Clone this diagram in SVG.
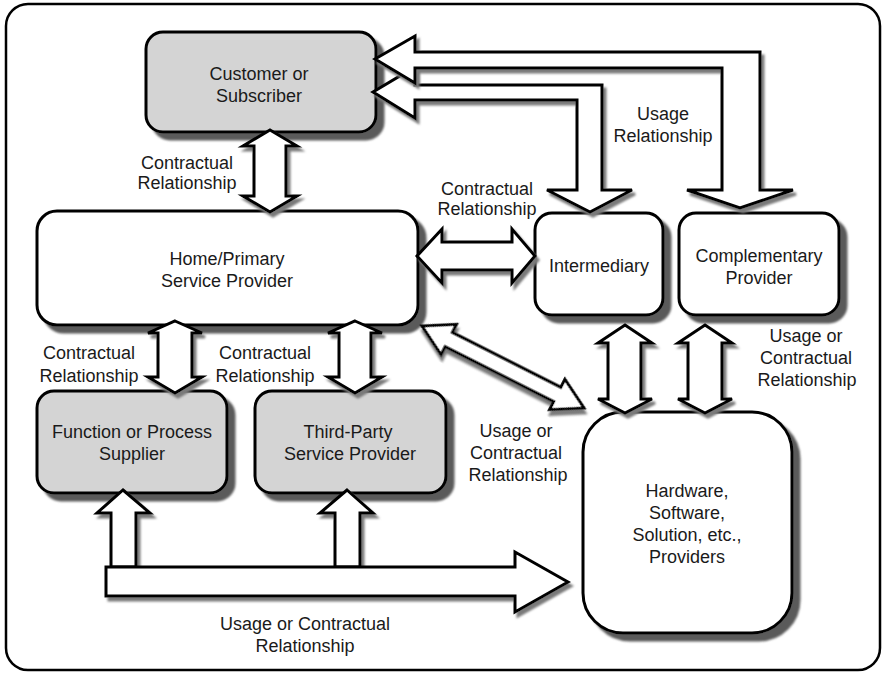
<svg xmlns="http://www.w3.org/2000/svg" width="884" height="674" viewBox="0 0 884 674">
  <defs>
    <filter id="boxShadow" x="-10%" y="-10%" width="130%" height="130%">
      <feDropShadow dx="7" dy="7" stdDeviation="0.8" flood-color="#5a5a5a" flood-opacity="1"/>
    </filter>
    <filter id="arrowShadow" x="-10%" y="-10%" width="130%" height="130%">
      <feDropShadow dx="3" dy="4" stdDeviation="1.2" flood-color="#7a7a7a" flood-opacity="1"/>
    </filter>
  </defs>
  <style>
    .frame { fill: #ffffff; stroke: #000000; stroke-width: 2.5; }
    .box { fill: #ffffff; stroke: #000000; stroke-width: 3; filter: url(#boxShadow); }
    .box.shaded { fill: #d4d4d4; }
    .arrow { fill: #ffffff; stroke: #000000; stroke-width: 3; stroke-linejoin: miter; filter: url(#arrowShadow); }
    text { font-family: "Liberation Sans", Arial, sans-serif; font-size: 18px; fill: #1a1a1a; text-anchor: middle; }
  </style>

  <!-- outer frame -->
  <rect class="frame" x="6" y="4" width="874" height="666" rx="22"/>

  <!-- nodes -->
  <g id="customer">
    <rect class="box shaded" x="146" y="32" width="230" height="100" rx="17"/>
    <text x="259" y="80">Customer or</text>
    <text x="259" y="102">Subscriber</text>
  </g>

  <g id="home-provider">
    <rect class="box" x="37" y="211" width="381" height="114" rx="20"/>
    <text x="227" y="265">Home/Primary</text>
    <text x="227" y="287">Service Provider</text>
  </g>

  <g id="intermediary">
    <rect class="box" x="535" y="213" width="128" height="102" rx="17"/>
    <text x="599" y="272">Intermediary</text>
  </g>

  <g id="complementary">
    <rect class="box" x="679" y="213" width="160" height="102" rx="17"/>
    <text x="759" y="262">Complementary</text>
    <text x="759" y="284">Provider</text>
  </g>

  <g id="function-supplier">
    <rect class="box shaded" x="37" y="391" width="190" height="102" rx="17"/>
    <text x="132" y="438">Function or Process</text>
    <text x="132" y="460">Supplier</text>
  </g>

  <g id="third-party">
    <rect class="box shaded" x="255" y="391" width="191" height="102" rx="17"/>
    <text x="348" y="438">Third-Party</text>
    <text x="350" y="460">Service Provider</text>
  </g>

  <g id="hw-sw-providers">
    <rect class="box" x="583" y="412" width="209" height="221" rx="40"/>
    <text x="687" y="497">Hardware,</text>
    <text x="687" y="519">Software,</text>
    <text x="687" y="541">Solution, etc.,</text>
    <text x="687" y="563">Providers</text>
  </g>

  <!-- connectors: block arrows -->
  <g id="connectors">
    <!-- customer <-> intermediary (bent) -->
    <path class="arrow" d="M373 92 L415 67 L415 85 L602 85 L602 190 L632 190 L590 212 L547 190 L577 190 L577 100 L415 100 L415 118 Z"/>
    <!-- customer <-> complementary (bent) -->
    <path class="arrow" d="M375 59 L415 36 L415 52 L760 52 L760 190 L793 190 L740 208 L687 190 L722 190 L722 68 L415 68 L415 83 Z"/>
    <!-- customer <-> home -->
    <path class="arrow" d="M270 130 L297 146 L286 146 L286 196 L297 196 L270 212 L243 196 L254 196 L254 146 L243 146 Z"/>
    <!-- home <-> intermediary -->
    <path class="arrow" d="M417 256 L442 229 L442 242 L512 242 L512 229 L535 256 L512 283 L512 270 L442 270 L442 283 Z"/>
    <!-- home <-> function supplier -->
    <path class="arrow" d="M175 321 L202 333 L192 333 L192 377 L202 377 L175 393 L148 377 L158 377 L158 333 L148 333 Z"/>
    <!-- home <-> third party -->
    <path class="arrow" d="M355 321 L382 333 L371 333 L371 377 L382 377 L355 393 L328 377 L339 377 L339 333 L328 333 Z"/>
    <!-- home <-> hardware (diagonal) -->
    <path class="arrow" transform="translate(422 326) rotate(26.85)" d="M0 0 L30 -17 L30 -8 L151.6 -8 L151.6 -17 L181.6 0 L151.6 17 L151.6 8 L30 8 L30 17 Z"/>
    <!-- intermediary <-> hardware -->
    <path class="arrow" d="M625 325 L652 343 L641 343 L641 399 L652 399 L625 413 L598 399 L608 399 L608 343 L598 343 Z"/>
    <!-- complementary <-> hardware -->
    <path class="arrow" d="M705 325 L732 343 L722 343 L722 399 L732 399 L705 413 L678 399 L688 399 L688 343 L678 343 Z"/>
    <!-- bus up to function supplier -->
    <path class="arrow" d="M123 490 L150 513 L136 513 L136 567 L111 567 L111 513 L97 513 Z"/>
    <!-- bus up to third party -->
    <path class="arrow" d="M347 490 L373 513 L360 513 L360 567 L335 567 L335 513 L320 513 Z"/>
    <!-- bus to hardware -->
    <path class="arrow" d="M106 567 L515 567 L515 552 L568 582 L515 612 L515 596 L106 596 Z"/>
  </g>

  <!-- relationship labels -->
  <g id="labels">
    <text x="187" y="169">Contractual</text>
    <text x="187" y="189">Relationship</text>
    <text x="487" y="195">Contractual</text>
    <text x="487" y="215">Relationship</text>
    <text x="663" y="120">Usage</text>
    <text x="663" y="142">Relationship</text>
    <text x="89" y="359">Contractual</text>
    <text x="89" y="382">Relationship</text>
    <text x="265" y="359">Contractual</text>
    <text x="265" y="382">Relationship</text>
    <text x="806" y="342">Usage or</text>
    <text x="806" y="364">Contractual</text>
    <text x="807" y="386">Relationship</text>
    <text x="516" y="437">Usage or</text>
    <text x="516" y="459">Contractual</text>
    <text x="518" y="481">Relationship</text>
    <text x="305" y="630">Usage or Contractual</text>
    <text x="305" y="652">Relationship</text>
  </g>
</svg>
